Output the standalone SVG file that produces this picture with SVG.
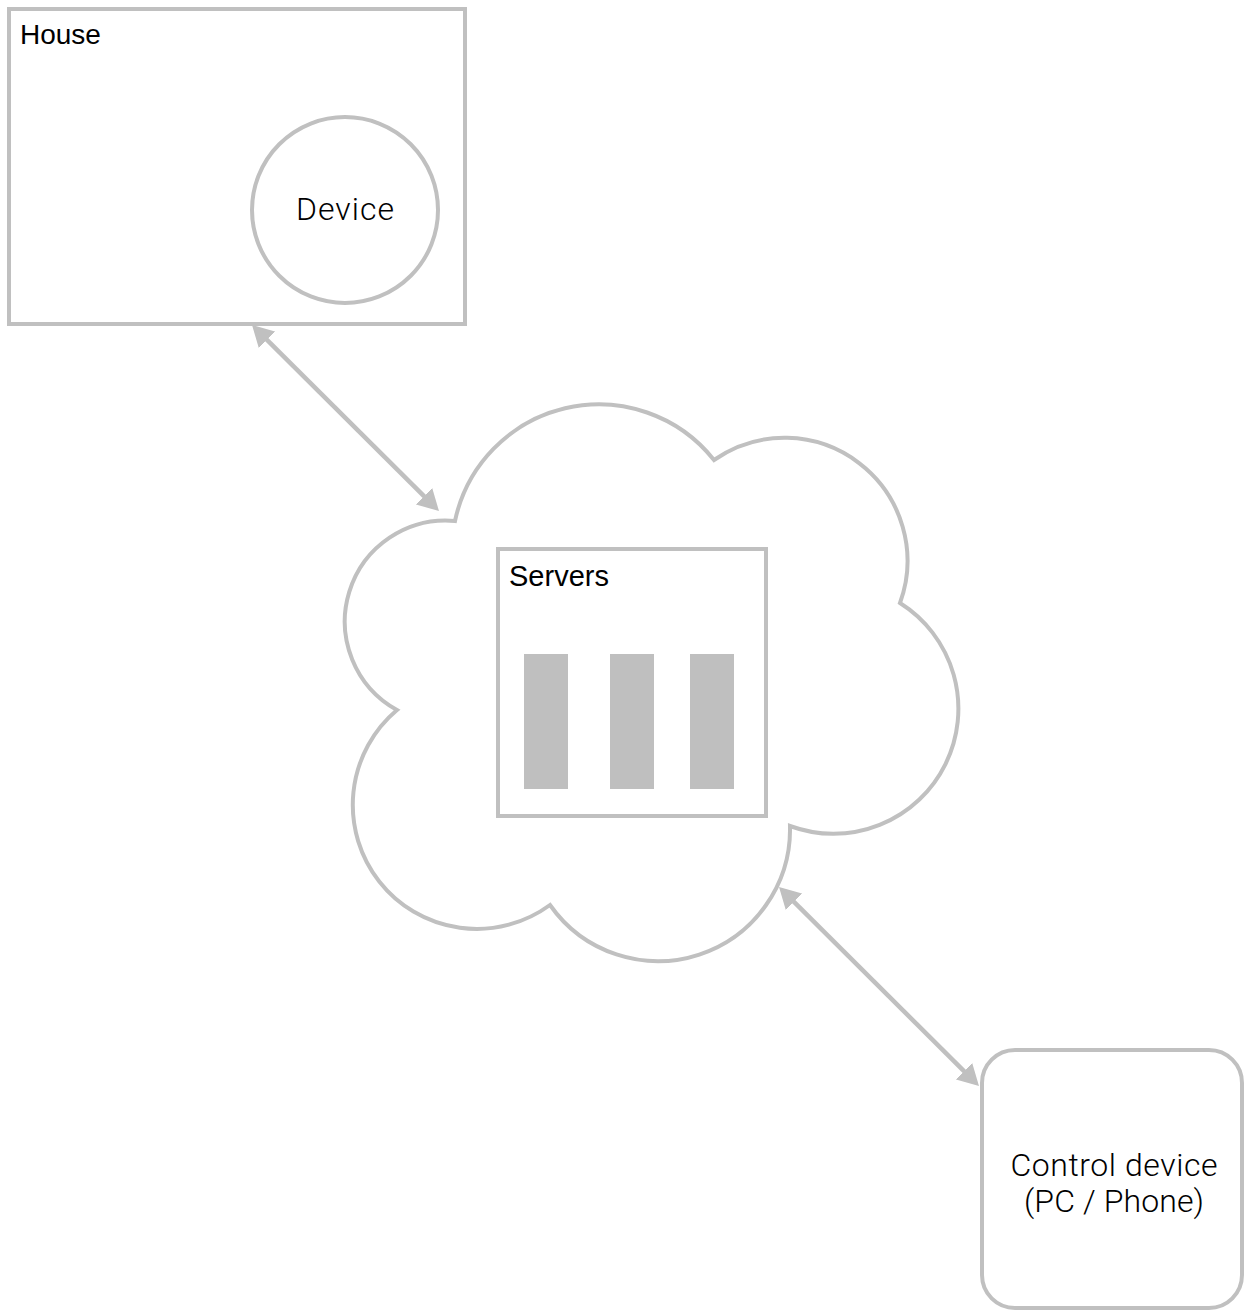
<svg xmlns="http://www.w3.org/2000/svg" width="1246" height="1314" viewBox="0 0 1246 1314">
<style>
.shape{fill:#ffffff;stroke:#c0c0c0;stroke-width:4}
.bar{fill:#bfbfbf;stroke:none}
.lbl{font-family:"Liberation Sans",Arial,sans-serif;font-size:28px;fill:#000}
.light{font-family:"Helvetica Neue",Roboto,"Liberation Sans",sans-serif;font-weight:300;font-size:32px;fill:#000;text-anchor:middle}
.conn{fill:none;stroke:#c0c0c0;stroke-width:4.5}
</style>
<defs>
<marker id="arr" viewBox="0 0 21 23" markerWidth="21" markerHeight="23" refX="13" refY="11.5" markerUnits="userSpaceOnUse" orient="auto-start-reverse">
<path d="M0,0 L21,11.5 L0,23 Z" fill="#c0c0c0"/>
</marker>
</defs>
<rect width="1246" height="1314" fill="#ffffff"/>
<g id="house">
<rect class="shape" x="9" y="9" width="456" height="315"/>
<text class="lbl" x="20" y="44">House</text>
</g>
<g id="device">
<circle class="shape" cx="345" cy="210" r="93"/>
<text class="light" x="345" y="220" textLength="98" lengthAdjust="spacing">Device</text>
</g>
<g id="cloud">
<path class="shape" d="M455,521 A147,147 0 0 1 714,460 A123,123 0 0 1 900,603 A125,125 0 0 1 790,826 A132,132 0 0 1 550,905 A124,124 0 0 1 397,710 A101,101 0 0 1 455,521 Z"/>
</g>
<g id="servers">
<rect class="shape" x="498" y="549" width="268" height="267"/>
<text class="lbl" x="509" y="586" style="font-size:29px">Servers</text>
<rect class="bar" x="524" y="654" width="44" height="135"/>
<rect class="bar" x="610" y="654" width="44" height="135"/>
<rect class="bar" x="690" y="654" width="44" height="135"/>
</g>
<g id="control">
<rect class="shape" x="982" y="1050" width="260" height="258" rx="33" ry="33"/>
<text class="light" x="1114" y="1176" textLength="207" lengthAdjust="spacing">Control device</text>
<text class="light" x="1114" y="1212" textLength="180" lengthAdjust="spacing">(PC / Phone)</text>
</g>
<g id="connectors">
<line class="conn" x1="257.7" y1="330.6" x2="433.3" y2="505.4" marker-start="url(#arr)" marker-end="url(#arr)"/>
<line class="conn" x1="784.7" y1="892.6" x2="973.3" y2="1080.4" marker-start="url(#arr)" marker-end="url(#arr)"/>
</g>
</svg>
